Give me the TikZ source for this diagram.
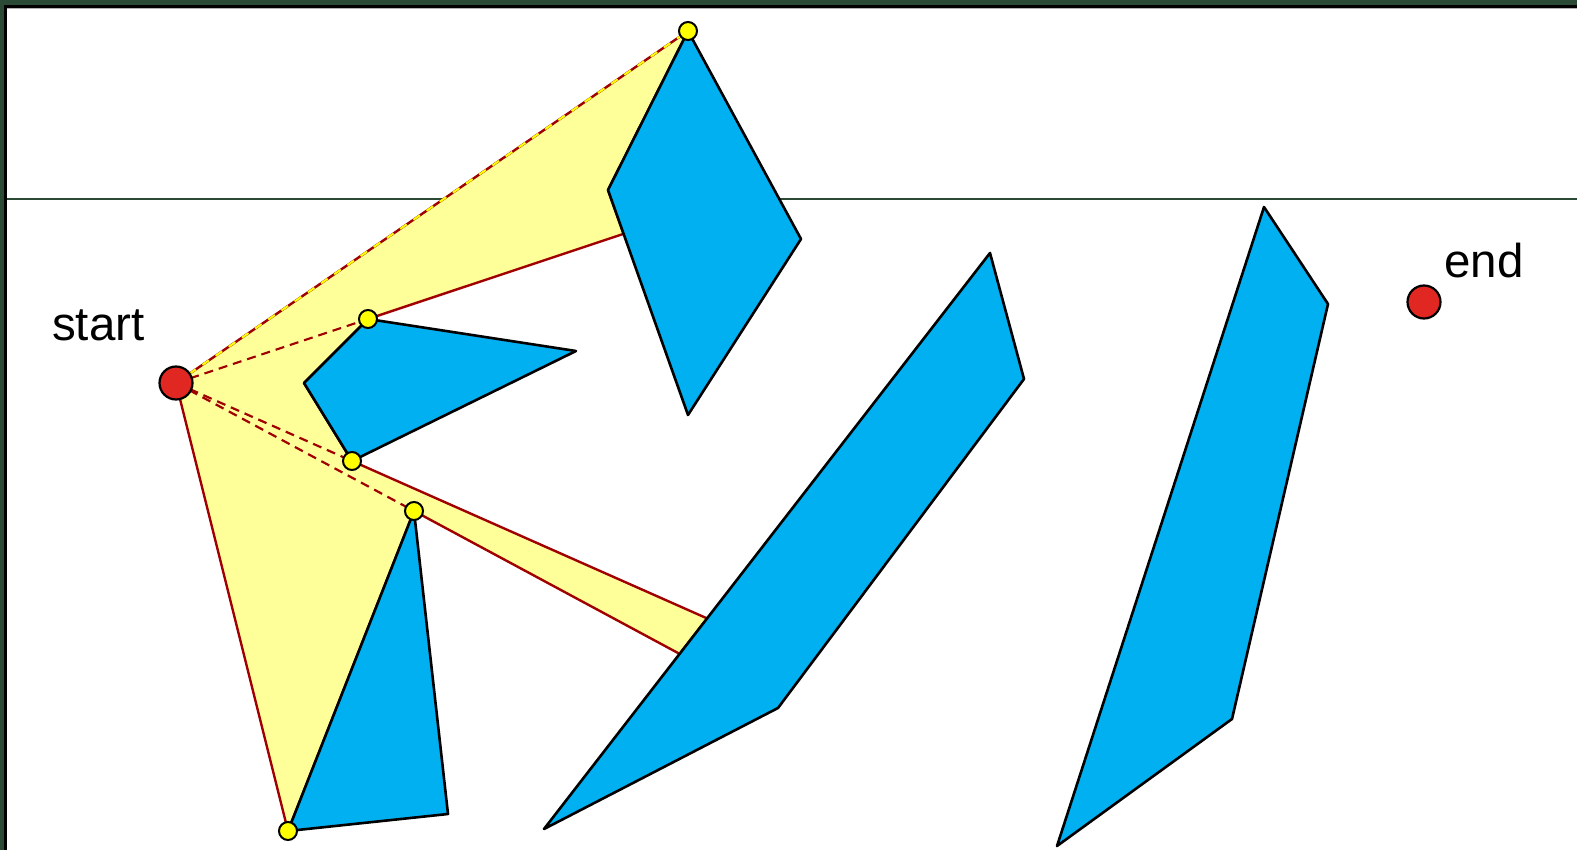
\documentclass[tikz,border=0pt]{standalone}
\usepackage{fontspec}
\setmainfont{Liberation Sans}
\definecolor{framegreen}{HTML}{2A4A35}
\definecolor{obstblue}{HTML}{00B0F0}
\definecolor{visyellow}{HTML}{FFFF99}
\definecolor{darkred}{HTML}{A00000}
\definecolor{dotred}{HTML}{E02722}
\definecolor{dotyellow}{HTML}{FFFF00}
\tikzset{
  vis/.style={fill=visyellow, draw=darkred, line width=2.4pt, line join=round},
  sight/.style={draw=darkred, line width=2.2pt, dash pattern=on 9pt off 6pt},
  obst/.style={fill=obstblue, draw=black, line width=2.6pt, line join=round},
  reddot/.style={circle, fill=dotred, draw=black, line width=2.2pt, minimum size=33pt, inner sep=0pt},
  ydot/.style={circle, fill=dotyellow, draw=black, line width=2pt, minimum size=18pt, inner sep=0pt},
  lbl/.style={font=\fontsize{47.5}{56}\selectfont, inner sep=0pt, anchor=base west},
  hline/.style={draw=framegreen, line width=1.5pt}
}
\begin{document}
\begin{tikzpicture}[x=1pt,y=-1pt]
\useasboundingbox (0,0) rectangle (1577,850);
\fill[white] (0,0) rectangle (1577,850);
% frame
\fill[framegreen] (0,0) rectangle (1577,6);
\fill[framegreen] (0,0) rectangle (5,850);
\draw[black, line width=2.5pt] (5.5,850) -- (5.5,6.5) -- (1577,6.5);
\draw[gray!60, line width=0.8pt] (7,8.3) -- (1577,8.3);
% coordinates
\coordinate (S) at (176,383);
\coordinate (T) at (688,31);
\coordinate (QL) at (608,190);
\coordinate (QR) at (801,239);
\coordinate (QB) at (688,415);
\coordinate (P2) at (368,319);
\coordinate (PT) at (576,351);
\coordinate (P3) at (352,461);
\coordinate (PL) at (304,383);
\coordinate (P4) at (414,511);
\coordinate (TR) at (448,814);
\coordinate (P5) at (288,831);
\coordinate (B1) at (990,253);
\coordinate (B2) at (1024,379);
\coordinate (B3) at (778,708);
\coordinate (B4) at (544,829);
\coordinate (R1) at (1264,207);
\coordinate (R2) at (1328,304);
\coordinate (R3) at (1232,719);
\coordinate (R4) at (1057,846);
\coordinate (E) at (1424,302);
\coordinate (H1) at (7,199);
\coordinate (H2) at (1577,199);
\coordinate (Q1) at (intersection of S--P2 and QL--QB);
\coordinate (Q2) at (intersection of S--P3 and B4--B1);
\coordinate (Q3) at (intersection of S--P4 and B4--B1);
% horizontal line
\draw[hline] (H1) -- (H2);
% visibility region
\filldraw[vis] (S) -- (T) -- (QL) -- (Q1) -- (P2) -- (PL) -- (P3) -- (Q2) -- (Q3) -- (P4) -- (P5) -- cycle;
\draw[dotyellow, line width=2pt, dash pattern=on 8pt off 8pt] (S) -- (T);
% sight lines
\draw[sight] (S) -- (P2);
\draw[sight] (S) -- (P3);
\draw[sight] (S) -- (P4);
% obstacles
\draw[obst] (T) -- (QR) -- (QB) -- (QL) -- cycle;
\draw[obst] (P2) -- (PT) -- (P3) -- (PL) -- cycle;
\draw[obst] (P4) -- (TR) -- (P5) -- cycle;
\draw[obst] (B1) -- (B2) -- (B3) -- (B4) -- cycle;
\draw[obst] (R1) -- (R2) -- (R3) -- (R4) -- cycle;
% dots
\node[reddot] (start) at (S) {};
\node[reddot] (end) at (E) {};
\node[ydot] (y1) at (T) {};
\node[ydot] (y2) at (P2) {};
\node[ydot] (y3) at (P3) {};
\node[ydot] (y4) at (P4) {};
\node[ydot] (y5) at (P5) {};
% labels
\node[lbl] (startlbl) at (52,341) {start};
\node[lbl] (endlbl) at (1444,278) {end};
\end{tikzpicture}
\end{document}
